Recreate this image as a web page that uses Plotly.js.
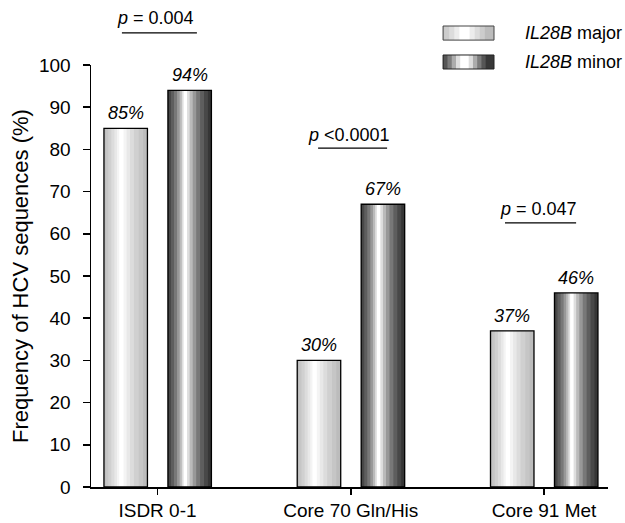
<!DOCTYPE html>
<html>
<head>
<meta charset="utf-8">
<script src="https://cdn.plot.ly/plotly-3.0.1.min.js"></script>
<style>html,body{margin:0;padding:0;background:#fff;}#chart{width:625px;height:523px;}</style>
</head>
<body>
<div id="chart"></div>
<script>
// ---- data ----
const categories = ["ISDR 0-1", "Core 70 Gln/His", "Core 91 Met"];
const majorValues = [85, 30, 37];
const minorValues = [94, 67, 46];
const seriesNames = ["IL28B major", "IL28B minor"];
const pLabels = ["<i>p</i> = 0.004", "<i>p</i> <0.0001", "<i>p</i> = 0.047"];

// ---- styling ----
const FONT = "Liberation Sans, Arial, sans-serif";
const xIdx = categories.map((_, i) => i);
const BW = 0.225;
const leftMajor = -0.277, leftMinor = 0.054;

function layered(values, left, layers) {
  const tr = [];
  layers.forEach(ly => {
    const w = BW * ly.f;
    const c = left + BW * ly.c;
    tr.push({
      type: "bar", x: xIdx, y: values, width: xIdx.map(() => w),
      offset: xIdx.map(() => c - w / 2),
      marker: { color: ly.col, line: { width: 0 } },
      hoverinfo: "skip", showlegend: false
    });
  });
  tr.push({
    type: "bar", x: xIdx, y: values, width: xIdx.map(() => BW),
    offset: xIdx.map(() => left),
    marker: { color: "rgba(0,0,0,0)", line: { color: "#000", width: 1.3 } },
    hoverinfo: "skip", showlegend: false
  });
  return tr;
}

const majorLayers = [
  { f: 1.0, c: 0.5, col: "#bcbcbc" },
  { f: 0.86, c: 0.47, col: "#c6c6c6" },
  { f: 0.7, c: 0.45, col: "#d0d0d0" },
  { f: 0.52, c: 0.43, col: "#dcdcdc" },
  { f: 0.36, c: 0.42, col: "#e8e8e8" },
  { f: 0.22, c: 0.41, col: "#f4f4f4" },
  { f: 0.1, c: 0.4, col: "#ffffff" }
];
const minorLayers = [
  { f: 1.0, c: 0.5, col: "#363636" },
  { f: 0.9, c: 0.47, col: "#484848" },
  { f: 0.76, c: 0.45, col: "#5e5e5e" },
  { f: 0.6, c: 0.44, col: "#787878" },
  { f: 0.44, c: 0.43, col: "#989898" },
  { f: 0.3, c: 0.42, col: "#bababa" },
  { f: 0.18, c: 0.41, col: "#dedede" },
  { f: 0.08, c: 0.4, col: "#ffffff" }
];

const traces = [].concat(layered(majorValues, leftMajor, majorLayers), layered(minorValues, leftMinor, minorLayers));

const annotations = [];
majorValues.forEach((v, i) => annotations.push({
  x: i + leftMajor + BW / 2, y: v, xref: "x", yref: "y", text: "<i>" + v + "%</i>",
  showarrow: false, xanchor: "center", yanchor: "bottom", yshift: 3, font: { family: FONT, size: 18, color: "#000" }
}));
minorValues.forEach((v, i) => annotations.push({
  x: i + leftMinor + BW / 2, y: v, xref: "x", yref: "y", text: "<i>" + v + "%</i>",
  showarrow: false, xanchor: "center", yanchor: "bottom", yshift: 3, font: { family: FONT, size: 18, color: "#000" }
}));
// p-values
const pPos = [{ x: -0.01, y: 1.111, yref: "paper" }, { x: 0.991, y: 83.4, yref: "y" }, { x: 1.969, y: 65.9, yref: "y" }];
pLabels.forEach((t, i) => annotations.push({
  x: pPos[i].x, y: pPos[i].y, xref: "x", yref: pPos[i].yref, text: t, showarrow: false,
  xanchor: "center", yanchor: "middle",
  font: { family: FONT, size: 18, color: "#000" }
}));
// legend text
annotations.push({ x: 0.8356, y: 1.0758, xref: "paper", yref: "paper", xanchor: "left", yanchor: "middle", showarrow: false,
  text: "<i>IL28B</i> major", font: { family: FONT, size: 18, color: "#000" } });
annotations.push({ x: 0.8356, y: 1.0071, xref: "paper", yref: "paper", xanchor: "left", yanchor: "middle", showarrow: false,
  text: "<i>IL28B</i> minor", font: { family: FONT, size: 18, color: "#000" } });

function swatch(y0, y1, cols, edge) {
  const out = [];
  const x0 = 0.681, x1 = 0.7795, W = x1 - x0, cx = x0 + W * 0.42;
  cols.forEach((c, k) => {
    const f = 1 - k / cols.length;
    const hw = W * f / 2;
    const l = Math.max(x0, cx - hw), r = Math.min(x1, cx + hw + (k === 0 ? W : 0));
    out.push({ type: "rect", xref: "paper", yref: "paper", x0: k === 0 ? x0 : l, x1: k === 0 ? x1 : r, y0: y0, y1: y1,
      fillcolor: c, line: { width: 0 } });
  });
  out.push({ type: "rect", xref: "paper", yref: "paper", x0: x0, x1: x1, y0: y0, y1: y1,
    fillcolor: "rgba(0,0,0,0)", line: { color: edge, width: 1 } });
  return out;
}

const shapes = [
  { type: "line", xref: "x", yref: "paper", x0: -0.184, x1: 0.204, y0: 1.076, y1: 1.076, line: { color: "#000", width: 1.3 } },
  { type: "line", xref: "x", yref: "y", x0: 0.831, x1: 1.188, y0: 80.3, y1: 80.3, line: { color: "#000", width: 1.3 } },
  { type: "line", xref: "x", yref: "y", x0: 1.798, x1: 2.166, y0: 62.6, y1: 62.6, line: { color: "#000", width: 1.3 } }
].concat(
  swatch(1.059, 1.0924, ["#bcbcbc", "#cccccc", "#dcdcdc", "#ececec", "#ffffff"], "#444"),
  swatch(0.9905, 1.0237, ["#383838", "#565656", "#7c7c7c", "#acacac", "#dedede", "#ffffff"], "#222")
);

const layout = {
  width: 625, height: 523,
  margin: { l: 91, r: 17, t: 65, b: 36 },
  paper_bgcolor: "#fff", plot_bgcolor: "#fff",
  barmode: "overlay",
  showlegend: false,
  font: { family: FONT, color: "#000" },
  xaxis: {
    range: [-0.344, 2.331], tickvals: xIdx, ticktext: categories,
    showline: true, linecolor: "#000", linewidth: 1.5, ticks: "outside", ticklen: 6, tickwidth: 1.5, tickcolor: "#000",
    showgrid: false, zeroline: false, tickfont: { family: FONT, size: 19, color: "#000" }, fixedrange: true
  },
  yaxis: {
    range: [0, 100], dtick: 10, tick0: 0,
    showline: true, linecolor: "#000", linewidth: 1.5, ticks: "outside", ticklen: 7, tickwidth: 1.5, tickcolor: "#000",
    ticklabelstandoff: 8,
    showgrid: false, zeroline: false, tickfont: { family: FONT, size: 19, color: "#000" },
    title: { text: "Frequency of HCV sequences (%)", font: { family: FONT, size: 22, color: "#000" }, standoff: 4 },
    fixedrange: true
  },
  annotations: annotations,
  shapes: shapes
};

Plotly.newPlot("chart", traces, layout, { displayModeBar: false, staticPlot: true });
</script>
</body>
</html>
